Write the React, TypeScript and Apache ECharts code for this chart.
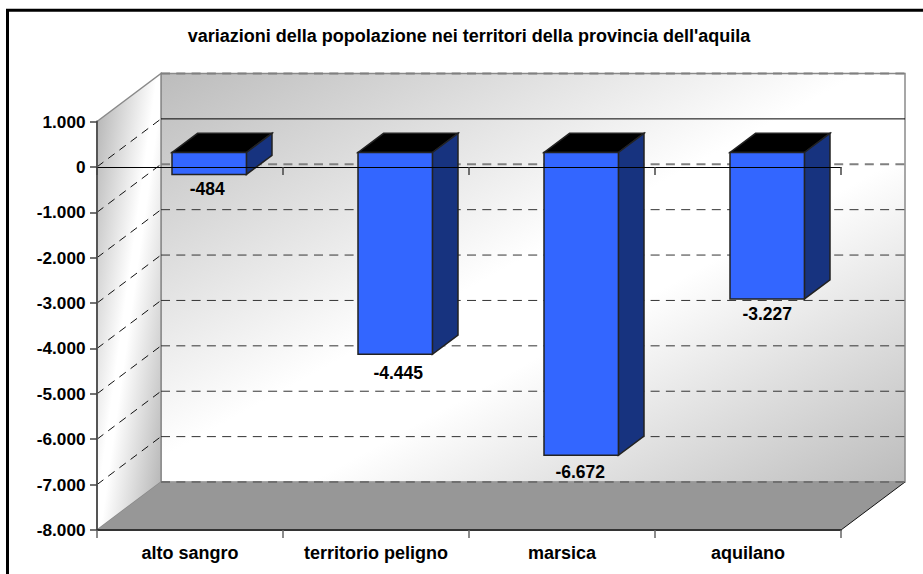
import React, { useEffect, useRef } from "react";
import * as echarts from "echarts";

const titleText = "variazioni della popolazione nei territori della provincia dell'aquila";
const categories = ["alto sangro", "territorio peligno", "marsica", "aquilano"];
const values = [-484, -4445, -6672, -3227];
const gridValues = [-1000, -2000, -3000, -4000, -5000, -6000, -7000];
const labelNudgeX = [-2, 3, -1, 0];
const labelNudgeY = [0, 4, 2, 0];

const fontFamily = '"Liberation Sans", Arial, sans-serif';
const DEPTH_X = 64;
const DEPTH_Y = -48;

const fmt = (v: number) => {
  const s = Math.abs(v).toString().replace(/\B(?=(\d{3})+$)/g, ".");
  return (v < 0 ? "-" : "") + s;
};

const stops = (edge: string, lo: number, hi: number) => [
  { offset: 0, color: edge },
  { offset: lo, color: "#ffffff" },
  { offset: hi, color: "#ffffff" },
  { offset: 1, color: edge },
];

function renderWalls(params: any, api: any) {
  const cs = params.coordSys;
  const L = cs.x, R = cs.x + cs.width, T = cs.y, B = cs.y + cs.height;
  const bL = L + DEPTH_X, bR = R + DEPTH_X, bT = T + DEPTH_Y, bB = B + DEPTH_Y;
  const children: any[] = [
    {
      type: "polygon",
      shape: { points: [[bL, bT], [bR, bT], [bR, bB], [bL, bB]] },
      style: {
        fill: new echarts.graphic.LinearGradient(360.4, -36, 705.6, 592, stops("#bcbcbc", 0.47, 0.6), true),
        stroke: "#8a8a8a",
        lineWidth: 1.5,
      },
    },
    {
      type: "polygon",
      shape: { points: [[L, T], [bL, bT], [bL, bB], [L, B]] },
      style: {
        fill: new echarts.graphic.LinearGradient(72.9, 293.9, 185.1, 309.6, stops("#b8b8b8", 0.47, 0.53), true),
        stroke: "#8a8a8a",
        lineWidth: 1.5,
      },
    },
    {
      type: "polygon",
      shape: { points: [[L, B], [bL, bB], [bR, bB], [R, B]] },
      style: { fill: "#979797" },
    },
    {
      type: "line",
      shape: { x1: R, y1: B, x2: bR, y2: bB },
      style: { stroke: "#111111", lineWidth: 1 },
    },
  ];
  const dashed = (y: number, stroke: string, lineWidth: number) => ({
    type: "line",
    shape: { x1: bL, y1: y, x2: bR, y2: y },
    style: { stroke, lineWidth, lineDash: [9, 6.3] },
  });
  children.push(dashed(bT, "#808080", 2));
  children.push(dashed(bB, "#707070", 2));
  gridValues.forEach((v, i) => {
    const y = api.coord([0, v])[1];
    children.push(i === 0 ? dashed(y + DEPTH_Y, "#808080", 2) : dashed(y + DEPTH_Y, "#333333", 1));
    children.push({
      type: "line",
      shape: { x1: L, y1: y, x2: bL, y2: y + DEPTH_Y },
      style: { stroke: "#111111", lineWidth: 1, lineDash: [8, 6] },
    });
  });
  const y0 = api.coord([0, 0])[1];
  children.push({
    type: "line",
    shape: { x1: L, y1: y0, x2: bL, y2: y0 + DEPTH_Y },
    style: { stroke: "#111111", lineWidth: 1, lineDash: [8, 6] },
  });
  children.push({
    type: "line",
    shape: { x1: bL, y1: y0 + DEPTH_Y, x2: bR, y2: y0 + DEPTH_Y },
    style: { stroke: "#000000", lineWidth: 1 },
  });
  return { type: "group", children };
}

function renderBar(params: any, api: any) {
  const idx = api.value(0);
  const val = api.value(1);
  const band = api.size([1, 0])[0];
  const w = band * 0.4;
  const cx = api.coord([idx, 0])[0] + DEPTH_X * 0.3;
  const y0 = api.coord([idx, 0])[1] + DEPTH_Y * 0.3;
  const y1 = api.coord([idx, val])[1] + DEPTH_Y * 0.3;
  const xl = cx - w / 2, xr = cx + w / 2;
  const dx = DEPTH_X * 0.4, dy = DEPTH_Y * 0.4;
  const edge = { stroke: "#222222", lineWidth: 1.5 };
  return {
    type: "group",
    children: [
      {
        type: "polygon",
        shape: { points: [[xl, y0], [xr, y0], [xr + dx, y0 + dy], [xl + dx, y0 + dy]] },
        style: { fill: "#000000", ...edge },
      },
      {
        type: "polygon",
        shape: { points: [[xr, y0], [xr + dx, y0 + dy], [xr + dx, y1 + dy], [xr, y1]] },
        style: { fill: "#17337f", ...edge },
      },
      {
        type: "rect",
        shape: { x: xl, y: y0, width: w, height: y1 - y0 },
        style: { fill: "#3366ff", ...edge },
      },
      {
        type: "text",
        style: {
          x: cx + labelNudgeX[idx],
          y: y1 + 15 + labelNudgeY[idx],
          text: fmt(val),
          fill: "#000000",
          font: `bold 17.5px ${fontFamily}`,
          textAlign: "center",
          textVerticalAlign: "middle",
        },
      },
    ],
  };
}

export default function App() {
  const ref = useRef<HTMLDivElement>(null);
  useEffect(() => {
    const chart = echarts.init(ref.current!, undefined, { renderer: "svg" });
    chart.setOption({
      animation: false,
      backgroundColor: "#ffffff",
      title: {
        text: titleText,
        left: 464,
        top: 22,
        textAlign: "center",
        textStyle: { fontFamily, fontWeight: "bold", fontSize: 18, color: "#000000" },
      },
      grid: { left: 97, top: 121.5, width: 744, height: 408.5 },
      xAxis: [
        {
          type: "category",
          data: categories,
          position: "bottom",
          z: 2,
          axisLine: { onZero: false, lineStyle: { color: "#333333", width: 2 } },
          axisTick: { show: true, length: 8, lineStyle: { color: "#666666", width: 1.5 } },
          axisLabel: {
            interval: 0,
            margin: 14,
            color: "#000000",
            fontFamily,
            fontWeight: "bold",
            fontSize: 18,
          },
          splitLine: { show: false },
        },
        {
          type: "category",
          data: categories,
          position: "bottom",
          z: 6,
          axisLine: { onZero: true, lineStyle: { color: "#000000", width: 1 } },
          axisTick: { show: true, length: 8, lineStyle: { color: "#444444", width: 1.5 } },
          axisLabel: { show: false },
          splitLine: { show: false },
        },
      ],
      yAxis: {
        type: "value",
        min: -8000,
        max: 1000,
        interval: 1000,
        z: 2,
        axisLine: { show: true, lineStyle: { color: "#555555", width: 2 } },
        axisTick: { show: true, length: 7, lineStyle: { color: "#444444", width: 1.5 } },
        axisLabel: {
          margin: 11.5,
          color: "#000000",
          fontFamily,
          fontWeight: "bold",
          fontSize: 17.2,
          formatter: (v: number) => fmt(v),
        },
        splitLine: { show: false },
      },
      graphic: [
        { type: "line", z: 10, shape: { x1: 7.5, y1: 9, x2: 7.5, y2: 574 }, style: { stroke: "#000000", lineWidth: 3 } },
        { type: "line", z: 10, shape: { x1: 6, y1: 10.2, x2: 923, y2: 10.2 }, style: { stroke: "#000000", lineWidth: 3 } },
      ],
      series: [
        {
          type: "custom",
          z: 1,
          silent: true,
          renderItem: renderWalls,
          data: [[0, 0]],
          encode: { x: 0, y: 1 },
        },
        {
          type: "custom",
          z: 3,
          renderItem: renderBar,
          data: values.map((v, i) => [i, v]),
          encode: { x: 0, y: 1 },
        },
      ],
    });
    return () => chart.dispose();
  }, []);
  return (
    <div
      ref={ref}
      style={{ position: "fixed", left: 0, top: 0, width: 923, height: 574, overflow: "hidden" }}
    />
  );
}
